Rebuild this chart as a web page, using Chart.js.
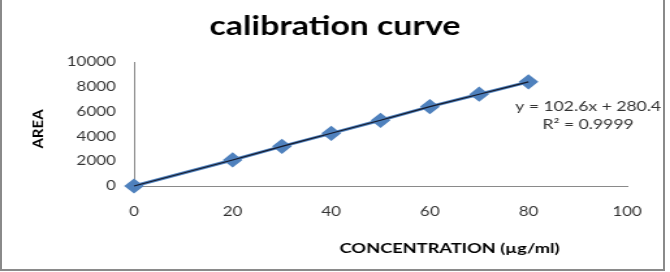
<!DOCTYPE html>
<html>
<head>
<meta charset="utf-8">
<script src="https://cdn.jsdelivr.net/npm/chart.js@4.4.1/dist/chart.umd.min.js"></script>
<style>
  body { margin: 0; background: #fff; }
  #wrap { position: relative; width: 670px; height: 272px; overflow: hidden; }
  #calChart { position: absolute; left: 0; top: 0; transform: scaleX(1.301); transform-origin: 0 0; }
  .edge { position: absolute; background: #8a8a8a; }
</style>
</head>
<body>
<div id="wrap">
  <canvas id="calChart" width="515" height="272"></canvas>
  <div class="edge" style="left:0;top:0;width:2px;height:271px"></div>
  <div class="edge" style="left:663px;top:0;width:2px;height:271px"></div>
  <div class="edge" style="left:0;top:269px;width:665px;height:2px"></div>
</div>
<script>
// calibration data
const concentration = [0, 20, 30, 40, 50, 60, 70, 80];
const area = [0, 2100, 3200, 4250, 5300, 6400, 7400, 8400];
const xTicks = [0, 20, 40, 60, 80, 100];
const yTicks = [0, 2000, 4000, 6000, 8000, 10000];
const equation = ['y = 102.6x + 280.4', 'R² = 0.9999'];

const pts = concentration.map((c, i) => ({ x: c, y: area[i] }));

// canvas is drawn narrow and stretched sideways like the original picture
const textBits = {
    id: 'textBits',
    afterDraw(chart) {
        const ctx = chart.ctx, ca = chart.chartArea;
        ctx.save();
        ctx.textBaseline = 'middle';
        ctx.textAlign = 'center';
        ctx.fillStyle = '#000';
        ctx.font = 'bold 26px Lato';
        ctx.fillText('calibration curve', chart.width / 2, 27);
        ctx.font = 'bold 14px Lato';
        ctx.fillText('CONCENTRATION (µg/ml)', ca.left + 0.64 * (ca.right - ca.left), 248);
        // y title, undo the sideways stretch for this one
        ctx.save();
        ctx.translate(29, 129);
        ctx.scale(1 / 1.301, 1);
        ctx.rotate(-Math.PI / 2);
        ctx.font = 'bold 15px Lato';
        ctx.fillText('AREA', 0, 0);
        ctx.restore();
        ctx.fillStyle = '#333';
        ctx.font = '13.5px Lato';
        ctx.textAlign = 'left';
        ctx.fillText(equation[0], 396, 107);
        ctx.fillText(equation[1], 417, 125);
        ctx.restore();
    }
};

new Chart('calChart', {
    type: 'scatter',
    data: {
        datasets: [{
            data: pts,
            showLine: true,
            borderColor: '#4f81bd',
            backgroundColor: '#4f81bd',
            borderWidth: 3,
            pointStyle: 'rectRot',
            pointRadius: 5.5,
            pointHoverRadius: 5.5,
            clip: false,
            order: 2
        }, {
            data: pts,
            showLine: true,
            borderColor: '#15192a',
            borderWidth: 1.2,
            pointRadius: 0,
            clip: false,
            order: 1
        }]
    },
    options: {
        responsive: false,
        animation: false,
        devicePixelRatio: 1,
        layout: { padding: { left: 0, right: 33, top: 62, bottom: 0 } },
        plugins: {
            legend: { display: false },
            tooltip: { enabled: false }
        },
        scales: {
            x: {
                type: 'linear',
                min: 0, max: 100,
                afterBuildTicks: s => { s.ticks = xTicks.map(v => ({ value: v })); },
                afterFit: s => { s.height = 86; },
                grid: { display: false, drawTicks: false },
                border: { color: '#8a8a8a', width: 1 },
                ticks: { color: '#333', font: { family: 'Lato', size: 13 }, padding: 18, callback: v => String(v) }
            },
            y: {
                min: 0, max: 10000,
                afterBuildTicks: s => { s.ticks = yTicks.map(v => ({ value: v })); },
                afterFit: s => { s.width = 103; },
                grid: { display: false, drawTicks: false },
                border: { color: '#8a8a8a', width: 1 },
                ticks: { color: '#333', font: { family: 'Lato', size: 13 }, padding: 14, callback: v => String(v) }
            }
        }
    },
    plugins: [textBits]
});
</script>
</body>
</html>
